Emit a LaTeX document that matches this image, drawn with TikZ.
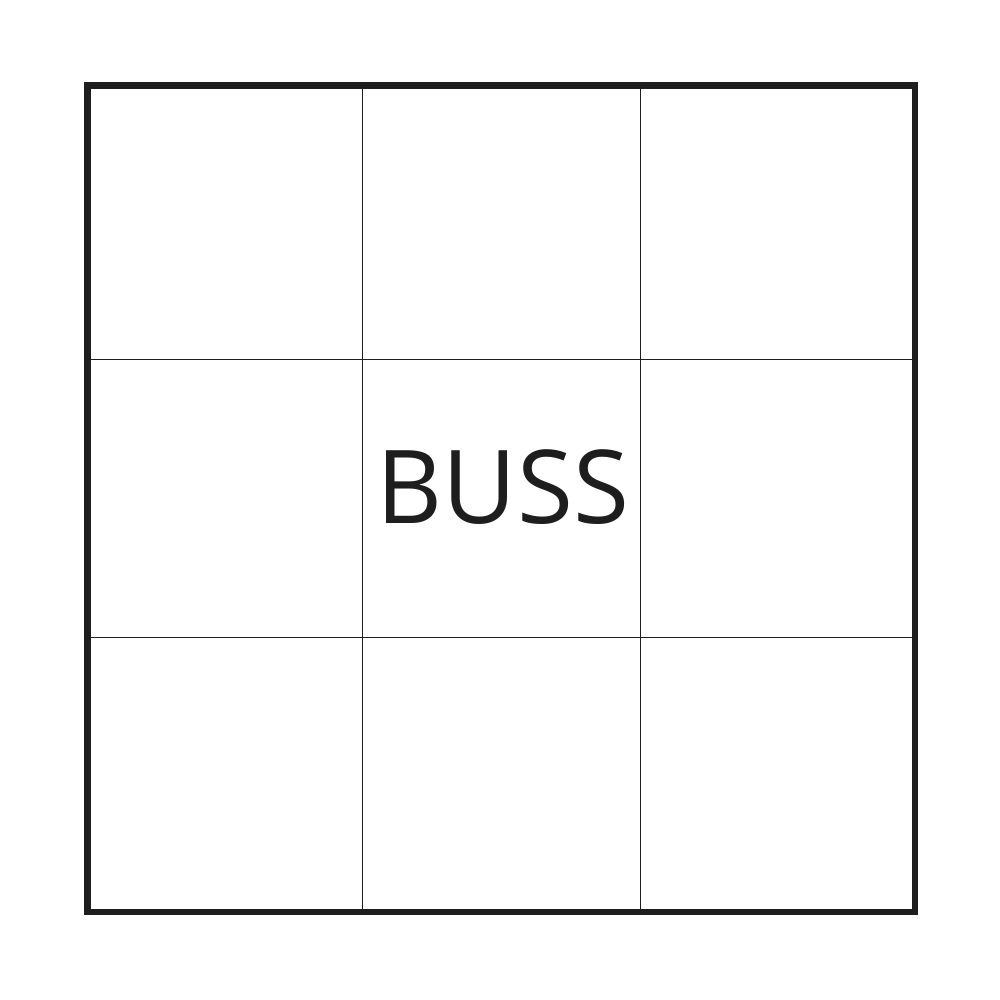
\documentclass[tikz,border=0pt]{standalone}
\usepackage{fontspec}
\setmainfont{Open Sans}
\definecolor{ink}{HTML}{1E1E1E}
\begin{document}
\begin{tikzpicture}[x=0.01cm,y=-0.01cm,
  outer/.style={draw=ink,line width=1.85pt},
  grid/.style={draw=ink,line width=0.32pt},
  label/.style={font=\fontsize{29}{34}\selectfont,text=ink,inner sep=0pt}]
\useasboundingbox (0,0) rectangle (1000,1000);
\draw[grid] (362.5,87) -- (362.5,912);
\draw[grid] (640.5,87) -- (640.5,912);
\draw[grid] (87,359.5) -- (915,359.5);
\draw[grid] (87,637.5) -- (915,637.5);
\draw[outer] (87.5,85.5) rectangle (915,912);
\node[label,anchor=base] (t) at (503,523) {BUSS};
\end{tikzpicture}
\end{document}
